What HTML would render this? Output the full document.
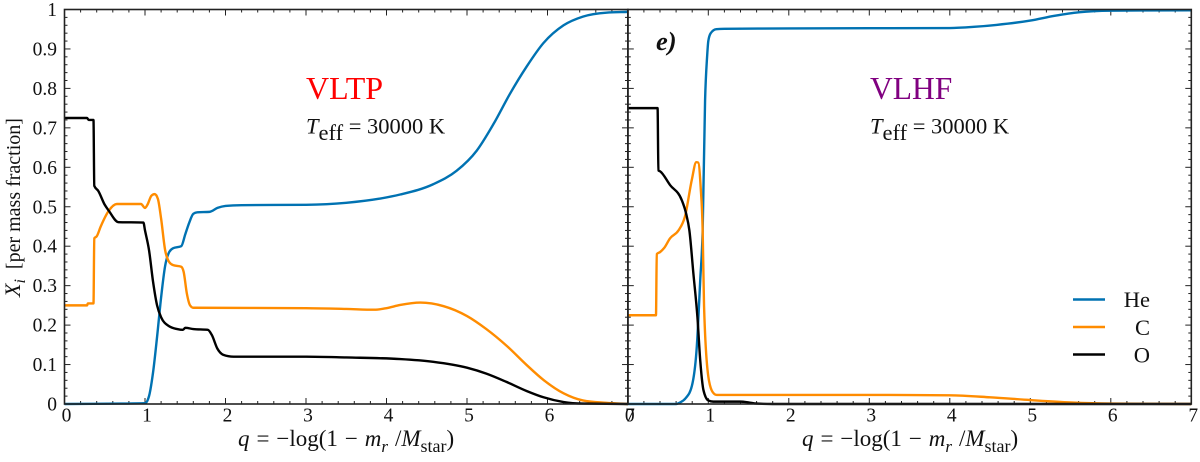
<!DOCTYPE html>
<html>
<head>
<meta charset="utf-8">
<style>
html,body{margin:0;padding:0;background:#fff;width:1200px;height:462px;overflow:hidden}
svg{display:block;font-family:"Liberation Serif",serif;fill:#111}
</style>
</head>
<body>
<svg id="chart" width="1200" height="462" viewBox="0 0 1200 462">
<g id="ticks"></g>
<g id="series"></g>
<g id="frames"></g>
<g id="labels"></g>
<text x="306" y="99" font-size="32" style="fill:#ff0000">VLTP</text>
<text x="870" y="99" font-size="31.5" style="fill:#800080">VLHF</text>
<text x="306" y="133.5" font-size="22.5"><tspan font-style="italic">T</tspan><tspan dy="6.5">eff</tspan><tspan dy="-6.5"> = 30000 K</tspan></text>
<text x="870" y="133.5" font-size="22.5"><tspan font-style="italic">T</tspan><tspan dy="6.5">eff</tspan><tspan dy="-6.5"> = 30000 K</tspan></text>
<text x="656" y="50" font-size="26.5" font-weight="bold" font-style="italic">e)</text>
<text x="238" y="446" font-size="23" word-spacing="1.2"><tspan font-style="italic">q</tspan> = −log(1 − <tspan font-style="italic">m</tspan><tspan font-style="italic" font-size="17" dy="6">r</tspan><tspan dy="-6"> /</tspan><tspan font-style="italic">M</tspan><tspan font-size="18" dy="6">star</tspan><tspan dy="-6">)</tspan></text>
<text x="802" y="446" font-size="23" word-spacing="1.2"><tspan font-style="italic">q</tspan> = −log(1 − <tspan font-style="italic">m</tspan><tspan font-style="italic" font-size="17" dy="6">r</tspan><tspan dy="-6"> /</tspan><tspan font-style="italic">M</tspan><tspan font-size="18" dy="6">star</tspan><tspan dy="-6">)</tspan></text>
<text transform="translate(20,297) rotate(-90)" font-size="20" xml:space="preserve"><tspan font-style="italic" font-size="22">X</tspan><tspan font-style="italic" font-size="16" dy="5">i</tspan><tspan dy="-5">  [per mass fraction]</tspan></text>
<g>
<line x1="1073" x2="1105" y1="299.5" y2="299.5" stroke="#0072b2" stroke-width="2.4"/>
<line x1="1073" x2="1105" y1="327" y2="327" stroke="#ff8c00" stroke-width="2.4"/>
<line x1="1073" x2="1105" y1="354.5" y2="354.5" stroke="#000" stroke-width="2.4"/>
<text x="1150" y="307" font-size="22.5" text-anchor="end">He</text>
<text x="1150" y="334.8" font-size="22.5" text-anchor="end">C</text>
<text x="1150" y="362.5" font-size="22.5" text-anchor="end">O</text>
</g>
</svg>
<script>
const xTickLabels = ["0","1","2","3","4","5","6","7"];
const yTickLabels = ["0","0.1","0.2","0.3","0.4","0.5","0.6","0.7","0.8","0.9","1"];

const leftHeQ = [0,0.7,1,1.05,1.1,1.15,1.2,1.25,1.3,1.35,1.45,1.5,1.55,1.6,1.65,1.8,1.9,2,2.2,3,3.5,3.9,4.17,4.58,4.87,5.12,5.33,5.53,5.74,5.95,6.2,6.44,6.73,7];
const leftHeX = [0,0.001,0.002,0.02,0.08,0.17,0.27,0.35,0.385,0.395,0.4,0.43,0.46,0.482,0.486,0.487,0.497,0.502,0.504,0.505,0.51,0.52,0.531,0.557,0.591,0.642,0.71,0.785,0.855,0.915,0.96,0.982,0.992,0.994];
const leftCQ = [0,0.28,0.29,0.36,0.37,0.4,0.45,0.55,0.65,0.95,1,1.03,1.08,1.12,1.16,1.2,1.25,1.3,1.35,1.45,1.48,1.52,1.56,1.6,3,3.5,3.85,4,4.17,4.42,4.71,5,5.24,5.49,5.74,5.95,6.2,6.44,6.73,7];
const leftCX = [0.25,0.25,0.255,0.255,0.42,0.425,0.45,0.49,0.507,0.507,0.497,0.505,0.528,0.532,0.52,0.47,0.39,0.36,0.352,0.348,0.335,0.28,0.25,0.244,0.243,0.241,0.239,0.243,0.251,0.257,0.248,0.223,0.19,0.148,0.099,0.061,0.027,0.009,0.003,0];
const leftOQ = [0,0.28,0.3,0.36,0.37,0.42,0.5,0.55,0.67,0.98,1,1.05,1.1,1.15,1.2,1.3,1.4,1.47,1.5,1.6,1.78,1.83,1.9,1.97,2.1,3,3.5,4.17,4.58,5,5.24,5.49,5.74,5.95,6.2,6.44,7];
const leftOX = [0.725,0.725,0.72,0.72,0.553,0.54,0.505,0.49,0.461,0.46,0.44,0.39,0.31,0.25,0.22,0.197,0.19,0.188,0.193,0.19,0.188,0.175,0.14,0.125,0.12,0.12,0.118,0.114,0.107,0.092,0.077,0.056,0.033,0.017,0.005,0.001,0];

const rightHeQ = [0,0.6,0.65,0.72,0.795,0.857,0.9,0.93,0.96,0.985,1,1.03,1.1,1.2,2,4,4.3,4.58,5,5.3,5.6,6,7];
const rightHeX = [0,0,0.004,0.015,0.045,0.145,0.315,0.44,0.77,0.88,0.92,0.94,0.95,0.951,0.952,0.953,0.956,0.961,0.972,0.984,0.993,0.997,0.998];
const rightCQ = [0,0.35,0.36,0.4,0.45,0.525,0.63,0.71,0.795,0.85,0.875,0.905,0.93,0.947,1,1.055,1.105,2,3,4,4.5,5,5.5,6,7];
const rightCX = [0.225,0.225,0.38,0.385,0.395,0.42,0.44,0.475,0.568,0.613,0.612,0.55,0.44,0.25,0.07,0.03,0.023,0.023,0.023,0.022,0.017,0.01,0.004,0.001,0];
const rightOQ = [0,0.37,0.38,0.4,0.525,0.67,0.724,0.765,0.815,0.865,0.9,0.94,1,1.06,1.4,1.5,1.6,1.8,7];
const rightOX = [0.75,0.75,0.592,0.59,0.555,0.517,0.483,0.44,0.33,0.22,0.11,0.035,0.009,0.006,0.006,0.004,0.001,0,0];

const NS = "http://www.w3.org/2000/svg";
const panelLeft = {x0: 64.5, seriesKey: "left"};
const panelRight = {x0: 627.8, seriesKey: "right"};
const unitX = 80.5;
const yTop = 9.5;
const yBottom = 404;
function sx(panel, q){ return panel.x0 + q * unitX; }
function sy(v){ return yBottom - v * (yBottom - yTop); }

function make(tag, attrs, parent){
  const el = document.createElementNS(NS, tag);
  for (const k in attrs) el.setAttribute(k, attrs[k]);
  parent.appendChild(el);
  return el;
}

function monotonePath(xs, ys){
  const n = xs.length, d = [], m = new Array(n);
  for (let i = 0; i < n - 1; i++) d.push((ys[i+1] - ys[i]) / (xs[i+1] - xs[i]));
  m[0] = d[0]; m[n-1] = d[n-2];
  for (let i = 1; i < n - 1; i++) {
    if (d[i-1] * d[i] <= 0) { m[i] = 0; continue; }
    const h0 = xs[i] - xs[i-1], h1 = xs[i+1] - xs[i];
    const p = (d[i-1] * h1 + d[i] * h0) / (h0 + h1);
    m[i] = Math.sign(d[i]) * Math.min(2 * Math.abs(d[i-1]), 2 * Math.abs(d[i]), Math.abs(p));
  }
  let p = "M" + xs[0].toFixed(2) + " " + ys[0].toFixed(2);
  for (let i = 0; i < n - 1; i++) {
    const h = (xs[i+1] - xs[i]) / 3;
    p += "C" + (xs[i] + h).toFixed(2) + " " + (ys[i] + m[i] * h).toFixed(2) + " " +
         (xs[i+1] - h).toFixed(2) + " " + (ys[i+1] - m[i+1] * h).toFixed(2) + " " +
         xs[i+1].toFixed(2) + " " + ys[i+1].toFixed(2);
  }
  return p;
}

const seriesGroup = document.getElementById("series");
function drawSeries(panel, qs, vals, color, name){
  const path = make("path", {
    d: monotonePath(qs.map(q => sx(panel, q)), vals.map(sy)),
    fill: "none", stroke: color, "stroke-width": 2.4, "stroke-linejoin": "round"
  }, seriesGroup);
  
  
}
drawSeries(panelLeft, leftHeQ, leftHeX, "#0072b2", "left-he-line");
drawSeries(panelLeft, leftCQ, leftCX, "#ff8c00", "left-c-line");
drawSeries(panelLeft, leftOQ, leftOX, "#000000", "left-o-line");
drawSeries(panelRight, rightHeQ, rightHeX, "#0072b2", "right-he-line");
drawSeries(panelRight, rightCQ, rightCX, "#ff8c00", "right-c-line");
drawSeries(panelRight, rightOQ, rightOX, "#000000", "right-o-line");

const tickGroup = document.getElementById("ticks");
const labelGroup = document.getElementById("labels");
function tickLine(x1, y1, x2, y2, w){
  make("line", {x1: x1, y1: y1, x2: x2, y2: y2, stroke: "#222", "stroke-width": w}, tickGroup);
}
[panelLeft, panelRight].forEach(function(panel){
  const xa = sx(panel, 0), xb = sx(panel, xTickLabels.length - 1);
  for (let i = 0; i <= (xTickLabels.length - 1) * 5; i++) {
    const x = sx(panel, i / 5), len = i % 5 === 0 ? 6 : 3;
    tickLine(x, yBottom, x, yBottom - len, 1);
    tickLine(x, yTop, x, yTop + len, 1);
  }
  for (let i = 0; i <= (yTickLabels.length - 1) * 5; i++) {
    const y = sy(i / 50), len = i % 5 === 0 ? 6 : 3;
    tickLine(xa, y, xa + len, y, 1);
    tickLine(xb, y, xb - len, y, 1);
  }
  xTickLabels.forEach(function(t, i){
    const lab = make("text", {x: sx(panel, i) + 2, y: 421.5, "font-size": 19.5, "text-anchor": "middle"}, labelGroup);
    lab.textContent = t;
    
    
  });
});
yTickLabels.forEach(function(t, i){
  const lab = make("text", {x: 57, y: sy(i / 10) + 6.5, "font-size": 19.5, "text-anchor": "end"}, labelGroup);
  lab.textContent = t;
  
  
});

const frameGroup = document.getElementById("frames");
[panelLeft, panelRight].forEach(function(panel){
  const r = make("rect", {
    x: sx(panel, 0), y: yTop, width: 7 * unitX, height: yBottom - yTop,
    fill: "none", stroke: "#222", "stroke-width": 1.6
  }, frameGroup);
  
  
});
</script>
</body>
</html>
